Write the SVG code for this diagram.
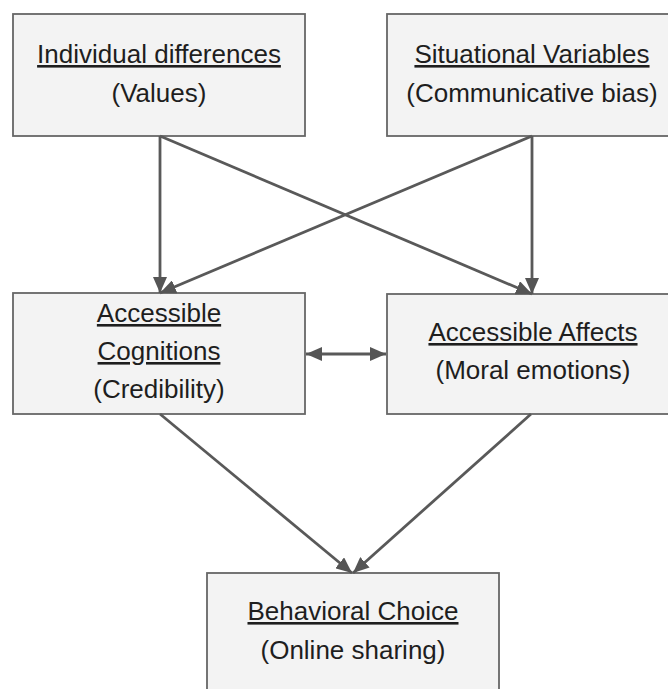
<svg xmlns="http://www.w3.org/2000/svg" width="668" height="689" viewBox="0 0 668 689">
  <style>
    .box { fill: #f3f3f3; stroke: #666666; stroke-width: 1.8; }
    .label { font-family: "Liberation Sans", Arial, sans-serif; font-size: 26px; fill: #1e1e1e; text-anchor: middle; }
    .title { text-decoration: underline; }
    .edge { stroke: #595959; stroke-width: 2.8; fill: none; }
  </style>
  <defs>
    <marker id="head" viewBox="0 0 16 14" refX="16" refY="7" markerWidth="16" markerHeight="14" markerUnits="userSpaceOnUse" orient="auto-start-reverse">
      <path d="M0,0 L16,7 L0,14 Z" fill="#555555"/>
    </marker>
  </defs>
  <rect width="668" height="689" fill="#ffffff"/>

  <g id="individual">
    <rect class="box" x="13" y="14" width="292" height="122"/>
    <text class="label title" x="159" y="63">Individual differences</text>
    <text class="label" x="159" y="102">(Values)</text>
  </g>

  <g id="situational">
    <rect class="box" x="387" y="14" width="292" height="122"/>
    <text class="label title" x="532" y="63">Situational Variables</text>
    <text class="label" x="532" y="102">(Communicative bias)</text>
  </g>

  <g id="cognitions">
    <rect class="box" x="13" y="293" width="292" height="121"/>
    <text class="label title" x="159" y="322">Accessible</text>
    <text class="label title" x="159" y="360">Cognitions</text>
    <text class="label" x="159" y="398">(Credibility)</text>
  </g>

  <g id="affects">
    <rect class="box" x="387" y="294" width="292" height="120"/>
    <text class="label title" x="533" y="341">Accessible Affects</text>
    <text class="label" x="533" y="379">(Moral emotions)</text>
  </g>

  <g id="choice">
    <rect class="box" x="207" y="573" width="292" height="122"/>
    <text class="label title" x="353" y="620">Behavioral Choice</text>
    <text class="label" x="353" y="659">(Online sharing)</text>
  </g>

  <g id="connectors">
    <line class="edge" x1="160" y1="136" x2="160" y2="293" marker-end="url(#head)"/>
    <line class="edge" x1="160" y1="136" x2="532" y2="294" marker-end="url(#head)"/>
    <line class="edge" x1="532" y1="136" x2="532" y2="294" marker-end="url(#head)"/>
    <line class="edge" x1="532" y1="136" x2="160" y2="293" marker-end="url(#head)"/>
    <line class="edge" x1="306" y1="354" x2="386" y2="354" marker-start="url(#head)" marker-end="url(#head)"/>
    <line class="edge" x1="160" y1="414" x2="352" y2="573" marker-end="url(#head)"/>
    <line class="edge" x1="531" y1="414" x2="353" y2="573" marker-end="url(#head)"/>
  </g>
</svg>
